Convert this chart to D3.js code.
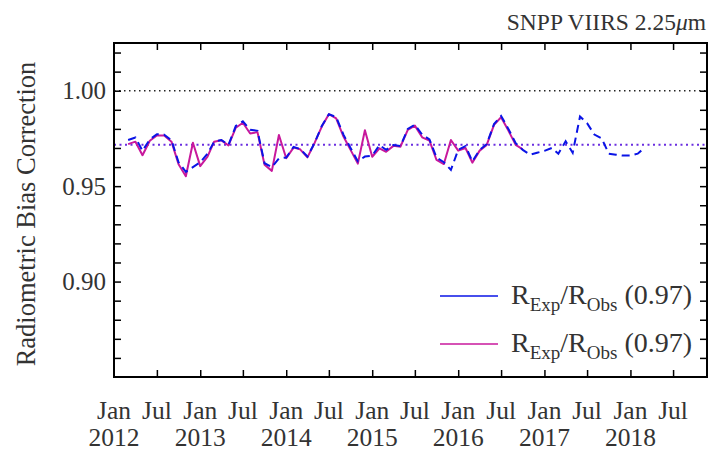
<!DOCTYPE html>
<html><head><meta charset="utf-8">
<script src="https://cdn.jsdelivr.net/npm/d3@7"></script>
<style>
body{margin:0;background:#fff;}
svg{display:block;font-family:"Liberation Serif","Times New Roman",serif;}
</style></head>
<body><svg id="c" width="717" height="454"></svg>
<script>
// ---- data ----
const startMonth = "2012-03-01";           // first data month
const blueValues = [
 0.9742,0.9755,0.9685,0.9745,0.9772,0.9770,0.9740,0.9625,0.9575,0.9600, // Mar 2012 - Dec 2012
 0.9625,0.9670,0.9733,0.9742,0.9716,0.9815,0.9840,0.9795,0.9790,0.9620,0.9600,0.9645, // 2013
 0.9650,0.9705,0.9695,0.9655,0.9725,0.9815,0.9877,0.9862,0.9770,0.9700,0.9630,0.9655, // 2014
 0.9660,0.9715,0.9690,0.9715,0.9710,0.9800,0.9822,0.9770,0.9745,0.9650,0.9625,0.9585, // 2015
 0.9690,0.9710,0.9630,0.9690,0.9720,0.9825,0.9868,0.9800,0.9725,0.9690,0.9665,0.9675, // 2016
 0.9685,0.9700,0.9670,0.9735,0.9675,0.9865,0.9830,0.9770,0.9750,0.9670,0.9665,0.9660, // 2017
 0.9660,0.9670,0.9700                                                                 // 2018
];
const magentaValues = [
 0.9720,0.9733,0.9662,0.9738,0.9765,0.9765,0.9733,0.9615,0.9552,0.9727, // Mar 2012 - Dec 2012
 0.9605,0.9655,0.9733,0.9740,0.9713,0.9806,0.9832,0.9776,0.9783,0.9612,0.9580,0.9768, // 2013
 0.9646,0.9702,0.9693,0.9651,0.9725,0.9812,0.9877,0.9855,0.9760,0.9690,0.9618,0.9793, // 2014
 0.9654,0.9698,0.9680,0.9711,0.9707,0.9795,0.9817,0.9756,0.9738,0.9637,0.9616,0.9742, // 2015
 0.9686,0.9700,0.9623,0.9686,0.9716,0.9821,0.9861,0.9791,0.9716,0.9693                 // 2016
];
const meanBlue = 0.9717, meanMagenta = 0.9717;
const refLine = 1.00;
const yDomain = [0.85, 1.025];
const xDomain = ["2012-01-01", "2018-11-22"];
const yLabelTicks = [0.90, 0.95, 1.00];
const legendLabels = ["(0.97)", "(0.97)"];
const title = "SNPP VIIRS 2.25";
const yTitle = "Radiometric Bias Correction";

// ---- layout ----
const svg = d3.select("#c");
const L = 114, R = 707, T = 43, B = 377;
const parse = d3.timeParse("%Y-%m-%d");
const x = d3.scaleTime().domain(xDomain.map(parse)).range([L, R]);
const y = d3.scaleLinear().domain(yDomain).range([B, T]);
const start = parse(startMonth);
const toPts = vals => vals.map((v, i) => ({d: d3.timeMonth.offset(start, i), v}));
const blue = toPts(blueValues), mag = toPts(magentaValues);
const line = d3.line().x(p => x(p.d)).y(p => y(p.v));

const BLUE = "#0a14e6", MAG = "#c8189c", PURP = "#6a2ee0", TXT = "#333";

// reference lines
svg.append("line").attr("x1", L).attr("x2", R).attr("y1", y(refLine)).attr("y2", y(refLine))
  .attr("stroke", "#222").attr("stroke-width", 1.5).attr("stroke-dasharray", "1.5,3.5");
svg.append("line").attr("x1", L).attr("x2", R).attr("y1", y(meanBlue)).attr("y2", y(meanBlue))
  .attr("stroke", PURP).attr("stroke-width", 2).attr("stroke-dasharray", "2,3.5");

// series
svg.append("path").datum(mag).attr("d", line).attr("fill", "none")
  .attr("stroke", MAG).attr("stroke-width", 2).attr("stroke-linejoin", "round");
svg.append("path").datum(blue).attr("d", line).attr("fill", "none")
  .attr("stroke", BLUE).attr("stroke-width", 2).attr("stroke-dasharray", "8,5");

// axes (inward ticks)
const yTicks = d3.range(86, 103, 1).map(v => v / 100).filter(v => v > yDomain[0] && v < yDomain[1]);
const xTicks = d3.timeMonth.every(6).range(parse("2012-07-01"), parse("2018-08-01"));
const gl = svg.append("g").attr("transform", `translate(${L},0)`)
  .call(d3.axisRight(y).tickValues(yTicks).tickSize(7).tickFormat(""));
const gr = svg.append("g").attr("transform", `translate(${R},0)`)
  .call(d3.axisLeft(y).tickValues(yTicks).tickSize(7).tickFormat(""));
const gt = svg.append("g").attr("transform", `translate(0,${T})`)
  .call(d3.axisBottom(x).tickValues(xTicks).tickSize(7).tickFormat(""));
const gb = svg.append("g").attr("transform", `translate(0,${B})`)
  .call(d3.axisTop(x).tickValues(xTicks).tickSize(7).tickFormat(""));
[gl, gr, gt, gb].forEach(g => {
  g.select(".domain").remove();
  g.selectAll(".tick line").attr("stroke", "#000").attr("stroke-width", 1.5);
});
svg.append("rect").attr("x", L).attr("y", T).attr("width", R - L).attr("height", B - T)
  .attr("fill", "none").attr("stroke", "#000").attr("stroke-width", 2);

// y tick labels
svg.append("g").selectAll("text").data(yLabelTicks).join("text")
  .attr("x", L - 8).attr("y", d => y(d)).attr("dy", "0.35em")
  .attr("text-anchor", "end").attr("font-size", 25).attr("fill", TXT)
  .text(d => d3.format(".2f")(d));

// x tick labels
const xLabelTicks = d3.timeMonth.every(6).range(parse("2012-01-01"), parse("2018-08-01"));
const xl = svg.append("g").selectAll("text").data(xLabelTicks).join("text")
  .attr("x", d => x(d)).attr("text-anchor", "middle").attr("font-size", 25.5).attr("fill", TXT);
xl.append("tspan").attr("x", d => x(d)).attr("y", 419).text(d => d3.timeFormat("%b")(d));
xl.filter(d => d.getMonth() === 0).append("tspan").attr("x", d => x(d)).attr("y", 446)
  .text(d => d3.timeFormat("%Y")(d));

// y title
svg.append("text").attr("transform", `translate(35,${(T + B) / 2 + 4}) rotate(-90)`)
  .attr("text-anchor", "middle").attr("font-size", 26.5).attr("fill", TXT).text(yTitle);

// title
const tt = svg.append("text").attr("x", 706).attr("y", 30).attr("text-anchor", "end")
  .attr("font-size", 23.5).attr("fill", TXT);
tt.append("tspan").text(title);
tt.append("tspan").attr("font-style", "italic").text("\u03bc");
tt.append("tspan").text("m");

// legend
const leg = [{c: BLUE, y: 296, lab: legendLabels[0]}, {c: MAG, y: 344, lab: legendLabels[1]}];
leg.forEach(e => {
  svg.append("line").attr("x1", 440).attr("x2", 498).attr("y1", e.y).attr("y2", e.y)
    .attr("stroke", e.c).attr("stroke-width", 1.6);
  const t = svg.append("text").attr("x", 511).attr("y", e.y + 8).attr("font-size", 28).attr("fill", TXT);
  t.append("tspan").text("R");
  t.append("tspan").attr("font-size", 19).attr("dy", 7).text("Exp");
  t.append("tspan").attr("dy", -7).text("/R");
  t.append("tspan").attr("font-size", 19).attr("dy", 7).text("Obs");
  t.append("tspan").attr("dy", -7).text(" " + e.lab);
});
</script></body></html>
